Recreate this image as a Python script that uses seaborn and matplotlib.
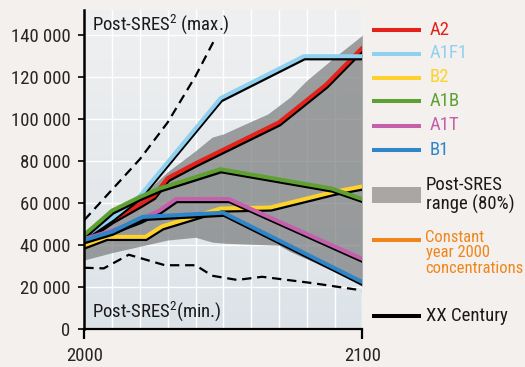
import numpy as np
import pandas as pd
import seaborn as sns
import matplotlib.pyplot as plt
import matplotlib.patheffects as pe
from matplotlib import font_manager
from matplotlib.colors import LinearSegmentedColormap
from matplotlib.ticker import FuncFormatter, MultipleLocator

# Scenario curves (year, value)
a2_years = [2000, 2010, 2020, 2025, 2030, 2040, 2050, 2060, 2070, 2087, 2100]
a2_vals = [43000, 52000, 59500, 63500, 72000, 79000, 85500, 92000, 98500, 116500, 134000]

a1f1_years = [2000, 2010, 2020, 2049, 2079, 2100]
a1f1_vals = [44000, 53000, 63500, 110000, 130000, 130000]

b2_years = [2000, 2008, 2022, 2028, 2049, 2067, 2090, 2100]
b2_vals = [40000, 44000, 44000, 49000, 57500, 58000, 65500, 68000]

a1b_years = [2000, 2010, 2020, 2027, 2049, 2089, 2100]
a1b_vals = [45000, 56500, 63000, 67000, 76200, 67000, 62000]

a1t_years = [2000, 2010, 2020, 2027, 2033, 2052, 2100]
a1t_vals = [43000, 47000, 52000, 56500, 62000, 62000, 33500]

b1_years = [2000, 2010, 2021, 2050, 2100]
b1_vals = [42500, 46500, 53500, 55500, 22500]

# Post-SRES 80% range
band_years = [2000, 2010, 2020, 2030, 2040, 2046, 2050, 2060, 2066, 2070, 2074, 2080, 2090, 2100]
band_upper = [45500, 54000, 63000, 75000, 85000, 91500, 93000, 99000, 102500, 106500, 110500, 118500, 129500, 140000]
band_lower = [33000, 36500, 39500, 42500, 43800, 41500, 41000, 40500, 40200, 40000, 37000, 33500, 27500, 20500]

# Post-SRES max / min (dashed)
max_years = [2000, 2010, 2020, 2030, 2040, 2046.5]
max_vals = [52000, 66500, 81000, 98500, 120500, 137000]
min_years = [2000, 2007, 2016, 2029, 2040, 2046, 2055, 2064, 2082, 2100]
min_vals = [29300, 29000, 35500, 30500, 30500, 25500, 23500, 25000, 22000, 18500]

scenarios = ['A2', 'A1F1', 'B2', 'A1B', 'A1T', 'B1']
scenario_data = {
    'A2': (a2_years, a2_vals),
    'A1F1': (a1f1_years, a1f1_vals),
    'B2': (b2_years, b2_vals),
    'A1B': (a1b_years, a1b_vals),
    'A1T': (a1t_years, a1t_vals),
    'B1': (b1_years, b1_vals),
}
colors = {
    'A2': '#e3231b',
    'A1F1': '#8fd1ef',
    'B2': '#fdd22c',
    'A1B': '#5fa032',
    'A1T': '#c460ac',
    'B1': '#2e86c8',
}
band_color = '#7f8182'
legend_band_color = '#a9a7a5'
constant_color = '#f0861b'

sns.set_style('white')
# condensed sans, close to the original's Helvetica Condensed
installed = {f.name for f in font_manager.fontManager.ttflist}
font = next(f for f in ['Roboto Condensed', 'Archivo Narrow', 'Barlow Semi Condensed',
                        'Liberation Sans Narrow', 'Liberation Sans'] if f in installed)
plt.rcParams['font.family'] = [font, 'DejaVu Sans']
plt.rcParams['mathtext.fontset'] = 'custom'
plt.rcParams['mathtext.rm'] = font
fs = 13.5

fig = plt.figure(figsize=(5.25, 3.67), dpi=100, facecolor='#f3f0ed')
ax = fig.add_axes([84.3 / 525, 37.7 / 367, 278 / 525, 319.3 / 367])

# soft vertical gradient for the plot background
bg = LinearSegmentedColormap.from_list('bg', ['#dce3e8', '#eff0f1'])
ax.imshow(np.linspace(0, 1, 256).reshape(-1, 1), extent=[2000, 2100, 0, 152000],
          aspect='auto', origin='lower', cmap=bg, zorder=0)

ax.fill_between(band_years, band_lower, band_upper, color=band_color, alpha=0.75,
                lw=0, zorder=1)

for name in scenarios:
    yrs, vals = scenario_data[name]
    sns.lineplot(x=yrs, y=vals, ax=ax, color=colors[name], lw=2.9, zorder=3,
                 solid_joinstyle='miter',
                 path_effects=[pe.SimpleLineShadow(offset=(0.5, -1.7), shadow_color='black',
                                                   alpha=1.0, linewidth=2.6),
                               pe.Normal()])

for yrs, vals in [(max_years, max_vals), (min_years, min_vals)]:
    sns.lineplot(x=yrs, y=vals, ax=ax, color='black', lw=1.6, zorder=2)
    ax.lines[-1].set_dashes((4.2, 2.6))

ax.text(2002.6, 141900, r'Post-SRES$^{\mathrm{2}}$ (max.)', fontsize=fs,
        color='#1a1a1a', va='baseline', ha='left', zorder=4)
ax.text(2002.6, 5700, r'Post-SRES$^{\mathrm{2}}$(min.)', fontsize=fs,
        color='#1a1a1a', va='baseline', ha='left', zorder=4)

ax.set_xlim(2000, 2100)
ax.set_ylim(0, 152000)
ax.set_xticks([2000, 2100])
ax.set_xticklabels(['2000', '2100'])
ax.xaxis.set_minor_locator(MultipleLocator(10))
ax.set_yticks(range(0, 140001, 20000))
ax.yaxis.set_major_formatter(FuncFormatter(lambda v, p: f'{v:,.0f}'.replace(',', ' ')))
ax.set_axisbelow(True)
ax.grid(True, which='both', color='white', lw=1.0)
ax.tick_params(axis='x', which='major', length=7.5, width=1.6, pad=5, labelsize=fs,
               direction='out', bottom=True, color='black')
ax.tick_params(axis='x', which='minor', length=0)
ax.tick_params(axis='y', length=4, width=1.2, pad=6, labelsize=fs, direction='out',
               left=True, color='black')
ax.set_xlabel('')
ax.set_ylabel('')
for side in ['top', 'right']:
    ax.spines[side].set_visible(False)
for side in ['left', 'bottom']:
    ax.spines[side].set_color('black')
    ax.spines[side].set_zorder(5)
ax.spines['left'].set_linewidth(1.8)
ax.spines['bottom'].set_linewidth(1.6)

# legend panel in pixel units
lg = fig.add_axes([0, 0, 1, 1], zorder=-1)
lg.set_xlim(0, 525)
lg.set_ylim(367, 0)
lg.axis('off')
lg.patch.set_visible(False)

legend_rows = [30, 53.5, 77.5, 101, 125.5, 150]
for name, y in zip(scenarios, legend_rows):
    lg.plot([372, 421], [y, y], color=colors[name], lw=2.9, solid_capstyle='butt')
    lg.text(430, y, name, color=colors[name], fontsize=fs, va='center', ha='left')

lg.add_patch(plt.Rectangle((372, 187), 49, 16, color=legend_band_color, lw=0))
lg.text(425.5, 195, 'Post-SRES\nrange (80%)', color='#1a1a1a', fontsize=fs,
        va='center', ha='left', linespacing=1.05)

lg.plot([372, 421], [240, 240], color=constant_color, lw=2.9, solid_capstyle='butt')
const_txt = lg.text(425.5, 230, 'Constant\nyear 2000\nconcentrations', color=constant_color,
                    fontsize=fs, va='top', ha='left', linespacing=1.03)

lg.plot([372, 421], [316, 316], color='black', lw=2.9, solid_capstyle='butt')
lg.text(425.5, 316, 'XX Century', color='#1a1a1a', fontsize=fs, va='center', ha='left')

# keep the longest legend word inside the figure
renderer = fig.canvas.get_renderer()
size = fs
while const_txt.get_window_extent(renderer).x1 > 524 and size > 9:
    size -= 0.25
    const_txt.set_fontsize(size)

fig.savefig('out.png', dpi=100, facecolor=fig.get_facecolor())
